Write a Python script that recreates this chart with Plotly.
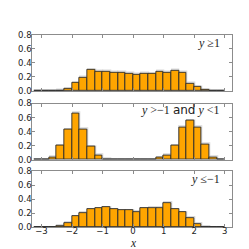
import plotly.graph_objects as go

# bin left edges (width 0.25)
bin_left = [-3.25, -3.0, -2.75, -2.5, -2.25, -2.0, -1.75, -1.5, -1.25, -1.0, -0.75, -0.5, -0.25,
            0.0, 0.25, 0.5, 0.75, 1.0, 1.25, 1.5, 1.75, 2.0, 2.25, 2.5, 2.75]
bin_width = 0.25

top_vals = [0, 0, 0, 0.006, 0.03, 0.115, 0.19, 0.30, 0.28, 0.275, 0.26, 0.26, 0.25,
            0.235, 0.245, 0.24, 0.275, 0.26, 0.29, 0.26, 0.105, 0.055, 0.014, 0, 0]
mid_vals = [0, 0, 0.036, 0.20, 0.43, 0.66, 0.435, 0.185, 0.064, 0.008, 0, 0, 0,
            0, 0, 0.004, 0.03, 0.068, 0.20, 0.46, 0.555, 0.465, 0.22, 0.036, 0.003]
bot_vals = [0, 0, 0.002, 0.02, 0.063, 0.158, 0.208, 0.253, 0.267, 0.285, 0.253, 0.24, 0.24,
            0.222, 0.267, 0.28, 0.28, 0.348, 0.253, 0.213, 0.131, 0.05, 0.009, 0, 0]

labels = ['<i>y</i> ≥1',
          '<i>y</i> >−1 <span style="font-family:DejaVu Sans">and</span> <i>y</i> <1',
          '<i>y</i> ≤−1']

x_ticks = [-3, -2, -1, 0, 1, 2, 3]
y_ticks = [0.0, 0.2, 0.4, 0.6, 0.8]

W = H = 249
x_dom = [24.3 / W, 223.7 / W]
panels_px = [(22.7, 81.3), (94.3, 153.0), (164.7, 223.3)]

fig = go.Figure()
centers = [b + bin_width / 2 for b in bin_left]
series = [top_vals, mid_vals, bot_vals]

for i, vals in enumerate(series):
    xa = 'x' if i == 0 else f'x{i+1}'
    ya = 'y' if i == 0 else f'y{i+1}'
    # soft shadow
    fig.add_trace(go.Bar(x=[c + 0.03 for c in centers], y=vals, base=0.008, width=bin_width,
                         marker=dict(color='rgba(0,0,0,0)', line=dict(color='#d9d9d9', width=1.2)),
                         xaxis=xa, yaxis=ya, showlegend=False, hoverinfo='skip'))
    fig.add_trace(go.Bar(x=centers, y=vals, width=bin_width,
                         marker=dict(color='#FFA500', line=dict(color='#2a2a2a', width=0.9)),
                         xaxis=xa, yaxis=ya, showlegend=False))

axis_common = dict(showline=True, mirror='ticks', linecolor='#8c8c8c', linewidth=1,
                   ticks='inside', ticklen=3, tickcolor='#8c8c8c', tickwidth=1,
                   showgrid=False, zeroline=False,
                   tickfont=dict(family='DejaVu Sans', size=8.5, color='#222'))

layout = dict(width=W, height=H, margin=dict(l=0, r=0, t=0, b=0),
              paper_bgcolor='white', plot_bgcolor='white', barmode='overlay',
              bargap=0, showlegend=False)

for i, (ytop, ybot) in enumerate(panels_px):
    xk = 'xaxis' if i == 0 else f'xaxis{i+1}'
    yk = 'yaxis' if i == 0 else f'yaxis{i+1}'
    ya = 'y' if i == 0 else f'y{i+1}'
    xa = 'x' if i == 0 else f'x{i+1}'
    layout[xk] = dict(axis_common, domain=x_dom, range=[-3.3, 3.23], anchor=ya,
                      tickvals=x_ticks, showticklabels=(i == 2), ticklabelstandoff=-5)
    layout[yk] = dict(axis_common, domain=[1 - ybot / H, 1 - ytop / H], range=[0, 0.8],
                      anchor=xa, tickvals=y_ticks, tickformat='.1f', ticklabelstandoff=-2)

fig.update_layout(**layout)

ann_y = [31, 101, 173]
for i, (lab, yy) in enumerate(zip(labels, ann_y)):
    fig.add_annotation(text=lab, xref='paper', yref='paper', x=214 / W, y=1 - yy / H,
                       xanchor='right', yanchor='middle', showarrow=False,
                       font=dict(family='Liberation Serif', size=12, color='#222'))

fig.add_annotation(text='<i>x</i>', xref='paper', yref='paper', x=125 / W, y=1 - 240 / H,
                   xanchor='center', yanchor='middle', showarrow=False,
                   font=dict(family='Liberation Serif', size=11.5, color='#222'))

fig.write_html('out.html')
